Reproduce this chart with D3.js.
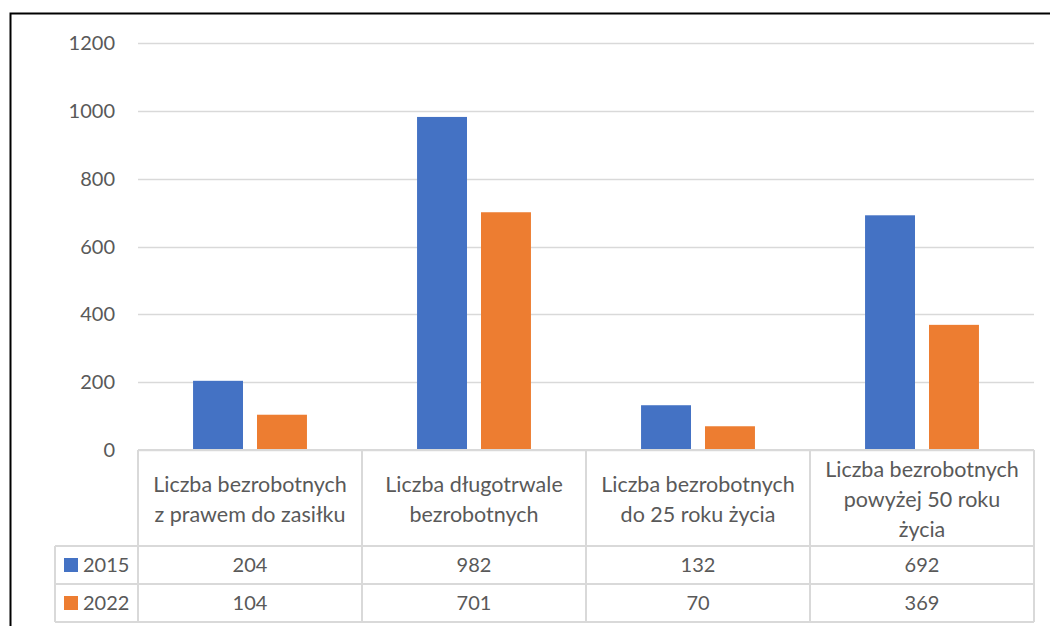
<!DOCTYPE html>
<html>
<head>
<meta charset="utf-8">
<script src="https://cdn.jsdelivr.net/npm/d3@7"></script>
<style>
  body { margin: 0; background: #fff; }
  svg text { font-family: Lato, "Open Sans", sans-serif; fill: #595959; }
</style>
</head>
<body>
<div id="container"></div>
<script>
const categories = [
  ["Liczba bezrobotnych", "z prawem do zasiłku"],
  ["Liczba długotrwale", "bezrobotnych"],
  ["Liczba bezrobotnych", "do 25 roku życia"],
  ["Liczba bezrobotnych", "powyżej 50 roku", "życia"]
];
const seriesNames = ["2015", "2022"];
const values2015 = [204, 982, 132, 692];
const values2022 = [104, 701, 70, 369];
const yTicks = [0, 200, 400, 600, 800, 1000, 1200];

const w = 1050, h = 626;
const plotLeft = 138, plotRight = 1034, plotTop = 43, plotBottom = 450;
const colors = ["#4472C4", "#ED7D31"];
const series = [values2015, values2022];
const fs = 21;

const svg = d3.select("#container").append("svg")
  .attr("width", w).attr("height", h);

// outer frame
svg.append("path")
  .attr("d", "M10.5," + h + " V13.5 H" + w)
  .attr("fill", "none").attr("stroke", "#000").attr("stroke-width", 2);

const x = d3.scaleBand().domain(d3.range(categories.length)).range([plotLeft, plotRight]);
const y = d3.scaleLinear().domain([0, 1200]).range([plotBottom, plotTop]);

// gridlines
svg.append("g").selectAll("line").data(yTicks).enter().append("line")
  .attr("x1", plotLeft).attr("x2", plotRight)
  .attr("y1", d => Math.round(y(d)) + 0.5).attr("y2", d => Math.round(y(d)) + 0.5)
  .attr("stroke", "#d9d9d9").attr("stroke-width", 1.5);

// y labels
svg.append("g").selectAll("text").data(yTicks).enter().append("text")
  .attr("x", 115).attr("y", d => y(d)).attr("dy", "0.35em")
  .attr("text-anchor", "end").attr("font-size", fs - 1)
  .text(d => d);

// bars
const barW = x.bandwidth() * 0.223, gap = 14;
series.forEach((vals, s) => {
  svg.append("g").selectAll("rect").data(vals).enter().append("rect")
    .attr("x", (d, i) => x(i) + x.bandwidth() / 2 - barW - gap / 2 + s * (barW + gap))
    .attr("y", d => y(d))
    .attr("width", barW)
    .attr("height", d => y(0) - y(d))
    .attr("fill", colors[s]);
});

// data table
const rowTop = [plotBottom, 546, 584, 622];
const legLeft = 55;
const tbl = svg.append("g").attr("stroke", "#d9d9d9").attr("stroke-width", 2).attr("fill", "none");
tbl.append("line").attr("x1", plotLeft).attr("x2", plotRight).attr("y1", rowTop[0]).attr("y2", rowTop[0]);
[1, 2, 3].forEach(r => {
  tbl.append("line").attr("x1", legLeft).attr("x2", plotRight).attr("y1", rowTop[r]).attr("y2", rowTop[r]);
});
d3.range(categories.length + 1).forEach(i => {
  const xx = i < categories.length ? x(i) : plotRight;
  tbl.append("line").attr("x1", xx).attr("x2", xx).attr("y1", rowTop[0]).attr("y2", rowTop[3]);
});
tbl.append("line").attr("x1", legLeft).attr("x2", legLeft).attr("y1", rowTop[1]).attr("y2", rowTop[3]);

// header text, centred in the header row
const headMid = (rowTop[0] + rowTop[1]) / 2 + 1;
categories.forEach((lines, i) => {
  const t = svg.append("text")
    .attr("text-anchor", "middle").attr("font-size", fs + 0.5);
  lines.forEach((ln, j) => {
    t.append("tspan").attr("x", x(i) + x.bandwidth() / 2)
      .attr("y", headMid + (j - (lines.length - 1) / 2) * 30).attr("dy", "0.35em").text(ln);
  });
});

// series rows
series.forEach((vals, s) => {
  const cy = (rowTop[s + 1] + rowTop[s + 2]) / 2;
  svg.append("rect").attr("x", 64).attr("y", cy - 7).attr("width", 14).attr("height", 14)
    .attr("fill", colors[s]);
  svg.append("text").attr("x", 83).attr("y", cy).attr("dy", "0.35em")
    .attr("font-size", fs - 1).text(seriesNames[s]);
  svg.append("g").selectAll("text").data(vals).enter().append("text")
    .attr("x", (d, i) => x(i) + x.bandwidth() / 2).attr("y", cy).attr("dy", "0.35em")
    .attr("text-anchor", "middle").attr("font-size", fs - 1)
    .text(d => d);
});
</script>
</body>
</html>
